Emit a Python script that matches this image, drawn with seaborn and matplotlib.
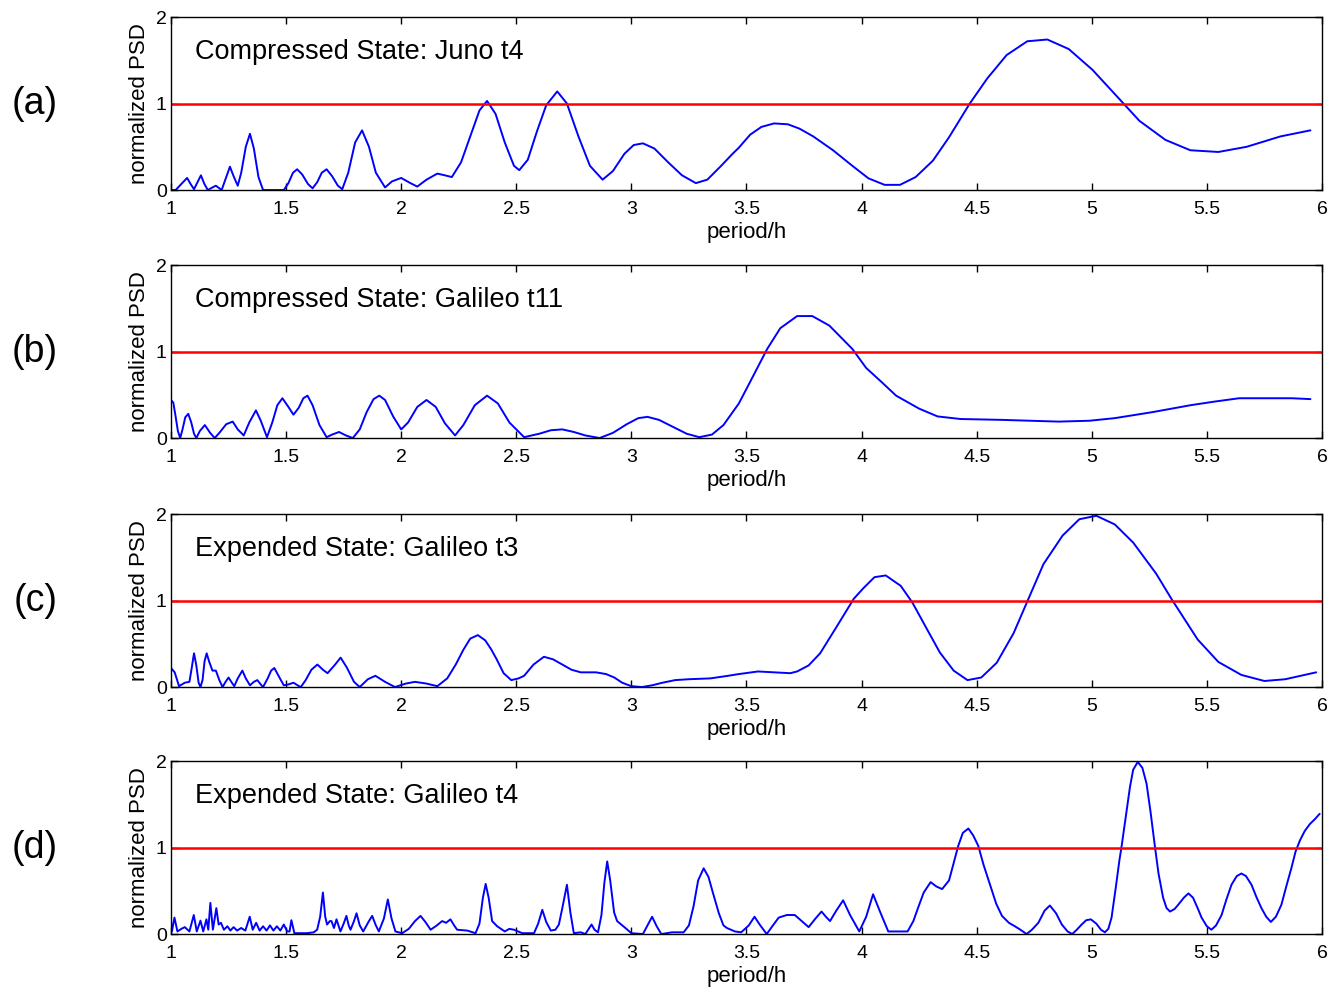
import numpy as np
import pandas as pd
import matplotlib
matplotlib.use('Agg')
import matplotlib.pyplot as plt
import seaborn as sns

# values (period in hours, normalized PSD)
period_a = [1.00, 1.02, 1.045, 1.07, 1.085, 1.10, 1.115, 1.13, 1.145, 1.16, 1.18, 1.195, 1.21, 1.22,
            1.24, 1.256, 1.272, 1.29, 1.305, 1.325, 1.343, 1.36, 1.38, 1.40, 1.49, 1.51, 1.53,
            1.548, 1.57, 1.595, 1.615, 1.635, 1.655, 1.676, 1.70, 1.725, 1.744, 1.77, 1.80,
            1.83, 1.86, 1.89, 1.93, 1.96, 2.00, 2.04, 2.07, 2.11, 2.157, 2.19, 2.22, 2.26,
            2.30, 2.34, 2.373, 2.41, 2.45, 2.49, 2.513, 2.55, 2.59, 2.63, 2.678, 2.72, 2.77,
            2.82, 2.875, 2.92, 2.97, 3.01, 3.05, 3.10, 3.16, 3.22, 3.28, 3.33, 3.39, 3.44,
            3.467, 3.516, 3.565, 3.62, 3.68, 3.73, 3.79, 3.876, 3.96, 4.03, 4.10, 4.167,
            4.235, 4.31, 4.38, 4.47, 4.546, 4.63, 4.72, 4.807, 4.90, 5.003, 5.10, 5.207,
            5.32, 5.428, 5.55, 5.673, 5.82, 5.95]
psd_a = [0.0, 0.0, 0.07, 0.14, 0.07, 0.01, 0.09, 0.17, 0.07, 0.0, 0.03, 0.05, 0.02, 0.0,
         0.15, 0.27, 0.16, 0.05, 0.20, 0.50, 0.65, 0.48, 0.15, 0.0, 0.0, 0.08, 0.20,
         0.24, 0.18, 0.07, 0.02, 0.09, 0.20, 0.24, 0.16, 0.05, 0.01, 0.20, 0.55,
         0.69, 0.50, 0.20, 0.03, 0.10, 0.14, 0.08, 0.04, 0.12, 0.19, 0.17, 0.15, 0.32,
         0.62, 0.92, 1.03, 0.88, 0.55, 0.28, 0.23, 0.35, 0.68, 0.98, 1.14, 1.00, 0.62,
         0.28, 0.12, 0.22, 0.42, 0.52, 0.54, 0.48, 0.32, 0.17, 0.08, 0.12, 0.28, 0.42,
         0.49, 0.64, 0.73, 0.77, 0.76, 0.71, 0.62, 0.46, 0.28, 0.135, 0.06, 0.06,
         0.15, 0.34, 0.61, 1.0, 1.29, 1.56, 1.72, 1.74, 1.63, 1.39, 1.11, 0.80,
         0.58, 0.46, 0.44, 0.50, 0.62, 0.69]

period_b = [1.00, 1.01, 1.02, 1.03, 1.04, 1.05, 1.062, 1.075, 1.088, 1.10, 1.11, 1.125, 1.147,
            1.17, 1.19, 1.21, 1.24, 1.268, 1.29, 1.316, 1.34, 1.369, 1.39, 1.417, 1.44, 1.462,
            1.484, 1.51, 1.532, 1.555, 1.575, 1.593, 1.615, 1.645, 1.676, 1.70, 1.73, 1.76,
            1.79, 1.82, 1.85, 1.88, 1.905, 1.93, 1.965, 2.0, 2.03, 2.07, 2.11, 2.15, 2.19,
            2.234, 2.27, 2.32, 2.373, 2.42, 2.47, 2.534, 2.60, 2.65, 2.70, 2.75, 2.80, 2.862,
            2.92, 2.98, 3.03, 3.07, 3.12, 3.18, 3.24, 3.295, 3.35, 3.40, 3.467, 3.516, 3.59,
            3.647, 3.72, 3.786, 3.86, 3.96, 4.02, 4.09, 4.15, 4.25, 4.33, 4.43, 4.61, 4.856,
            4.99, 5.10, 5.265, 5.43, 5.53, 5.64, 5.77, 5.87, 5.95]
psd_b = [0.44, 0.41, 0.25, 0.08, 0.0, 0.10, 0.24, 0.28, 0.18, 0.05, 0.0, 0.08, 0.15,
         0.06, 0.0, 0.06, 0.16, 0.19, 0.10, 0.03, 0.18, 0.32, 0.20, 0.01, 0.18, 0.38,
         0.46, 0.36, 0.27, 0.35, 0.46, 0.49, 0.38, 0.15, 0.01, 0.04, 0.07, 0.03,
         0.0, 0.10, 0.30, 0.45, 0.49, 0.44, 0.25, 0.10, 0.18, 0.36, 0.44, 0.36, 0.17,
         0.03, 0.15, 0.38, 0.49, 0.40, 0.18, 0.01, 0.05, 0.09, 0.10, 0.07, 0.03, 0.0,
         0.06, 0.16, 0.23, 0.245, 0.21, 0.13, 0.05, 0.01, 0.04, 0.15, 0.40, 0.65, 1.03,
         1.27, 1.41, 1.41, 1.30, 1.03, 0.81, 0.64, 0.49, 0.34, 0.25, 0.22, 0.21, 0.19,
         0.20, 0.23, 0.30, 0.38, 0.42, 0.46, 0.46, 0.46, 0.45]

period_c = [1.0, 1.016, 1.035, 1.06, 1.08, 1.09, 1.10, 1.11, 1.12, 1.128, 1.137, 1.146, 1.155,
            1.165, 1.18, 1.195, 1.21, 1.224, 1.237, 1.25, 1.262, 1.275, 1.29, 1.31, 1.325,
            1.343, 1.36, 1.375, 1.39, 1.40, 1.42, 1.435, 1.449, 1.465, 1.49, 1.51, 1.532,
            1.55, 1.564, 1.585, 1.61, 1.636, 1.66, 1.68, 1.71, 1.737, 1.765, 1.795, 1.82,
            1.855, 1.888, 1.93, 1.973, 2.02, 2.06, 2.11, 2.157, 2.20, 2.237, 2.27, 2.30,
            2.333, 2.365, 2.39, 2.413, 2.445, 2.478, 2.51, 2.534, 2.575, 2.62, 2.66, 2.70,
            2.74, 2.78, 2.846, 2.89, 2.926, 2.96, 3.0, 3.046, 3.09, 3.135, 3.19, 3.247,
            3.343, 3.42, 3.467, 3.55, 3.69, 3.72, 3.77, 3.82, 3.89, 3.966, 4.007, 4.056,
            4.105, 4.17, 4.22, 4.284, 4.34, 4.40, 4.46, 4.52, 4.587, 4.66, 4.725, 4.79,
            4.873, 4.946, 5.02, 5.10, 5.18, 5.28, 5.346, 5.46, 5.55, 5.65, 5.75, 5.84, 5.975]
psd_c = [0.22, 0.17, 0.01, 0.05, 0.06, 0.22, 0.39, 0.25, 0.05, 0.0, 0.08, 0.30, 0.39,
         0.30, 0.19, 0.19, 0.08, 0.0, 0.06, 0.11, 0.06, 0.01, 0.10, 0.19, 0.10,
         0.02, 0.06, 0.08, 0.03, 0.0, 0.10, 0.19, 0.22, 0.14, 0.02, 0.03, 0.05,
         0.02, 0.0, 0.08, 0.20, 0.26, 0.20, 0.16, 0.25, 0.34, 0.22, 0.06, 0.0,
         0.09, 0.13, 0.06, 0.0, 0.04, 0.06, 0.04, 0.01, 0.10, 0.26, 0.43, 0.56,
         0.60, 0.54, 0.44, 0.33, 0.16, 0.08, 0.10, 0.13, 0.26, 0.35, 0.32, 0.26,
         0.20, 0.17, 0.17, 0.15, 0.11, 0.05, 0.01, 0.0, 0.02, 0.05, 0.08, 0.09,
         0.10, 0.13, 0.15, 0.18, 0.16, 0.18, 0.25, 0.39, 0.69, 1.02, 1.14, 1.27,
         1.29, 1.17, 0.98, 0.67, 0.40, 0.19, 0.08, 0.11, 0.28, 0.62, 1.02, 1.42,
         1.75, 1.94, 1.98, 1.88, 1.67, 1.31, 1.02, 0.55, 0.29, 0.14, 0.07, 0.09, 0.17]

period_d = [1.000, 1.004, 1.015, 1.028, 1.045, 1.06, 1.08, 1.099, 1.112, 1.128, 1.14, 1.154,
            1.162, 1.171, 1.182, 1.197, 1.207, 1.217, 1.23, 1.245, 1.258, 1.272, 1.287, 1.305,
            1.323, 1.342, 1.355, 1.37, 1.385, 1.40, 1.415, 1.43, 1.445, 1.46, 1.475, 1.49,
            1.505, 1.515, 1.523, 1.536, 1.59, 1.62, 1.635, 1.648, 1.66, 1.67, 1.678, 1.69,
            1.697, 1.708, 1.719, 1.73, 1.736, 1.75, 1.762, 1.772, 1.78, 1.795, 1.806, 1.82,
            1.835, 1.86, 1.874, 1.89, 1.903, 1.925, 1.942, 1.958, 1.975, 2.004, 2.033, 2.06,
            2.084, 2.105, 2.128, 2.155, 2.178, 2.195, 2.214, 2.23, 2.243, 2.287, 2.323, 2.34,
            2.355, 2.367, 2.38, 2.395, 2.417, 2.45, 2.47, 2.49, 2.526, 2.577, 2.595, 2.613,
            2.63, 2.65, 2.67, 2.685, 2.70, 2.72, 2.735, 2.75, 2.78, 2.80, 2.815, 2.827,
            2.84, 2.855, 2.87, 2.883, 2.895, 2.908, 2.925, 2.938, 2.974, 3.0, 3.05, 3.07,
            3.09, 3.11, 3.13, 3.176, 3.227, 3.25, 3.27, 3.29, 3.314, 3.335, 3.355, 3.38,
            3.40, 3.415, 3.45, 3.477, 3.51, 3.535, 3.56, 3.588, 3.615, 3.64, 3.675, 3.71,
            3.74, 3.77, 3.80, 3.826, 3.845, 3.863, 3.89, 3.92, 3.95, 3.99, 4.02, 4.05,
            4.08, 4.116, 4.20, 4.225, 4.245, 4.27, 4.30, 4.325, 4.35, 4.38, 4.40, 4.42,
            4.44, 4.464, 4.485, 4.507, 4.53, 4.558, 4.585, 4.61, 4.64, 4.666, 4.69, 4.717,
            4.74, 4.768, 4.795, 4.818, 4.845, 4.87, 4.895, 4.915, 4.935, 4.956, 4.976, 4.996,
            5.02, 5.04, 5.057, 5.072, 5.086, 5.105, 5.12, 5.13, 5.15, 5.166, 5.18, 5.20,
            5.22, 5.238, 5.255, 5.274, 5.29, 5.31, 5.325, 5.34, 5.36, 5.376, 5.40, 5.42,
            5.44, 5.46, 5.477, 5.50, 5.52, 5.54, 5.564, 5.585, 5.607, 5.63, 5.65, 5.67,
            5.694, 5.715, 5.737, 5.758, 5.778, 5.80, 5.824, 5.845, 5.868, 5.885, 5.904, 5.925,
            5.947, 5.97, 5.99]
psd_d = [0.15, 0.03, 0.19, 0.03, 0.06, 0.08, 0.03, 0.22, 0.03, 0.155, 0.03, 0.17,
         0.05, 0.36, 0.05, 0.30, 0.11, 0.13, 0.05, 0.09, 0.04, 0.08, 0.04, 0.07,
         0.04, 0.20, 0.05, 0.13, 0.04, 0.09, 0.04, 0.10, 0.04, 0.09, 0.04, 0.11,
         0.03, 0.03, 0.16, 0.01, 0.01, 0.02, 0.05, 0.20, 0.48, 0.20, 0.11, 0.15,
         0.15, 0.07, 0.17, 0.08, 0.03, 0.12, 0.21, 0.10, 0.05, 0.15, 0.24, 0.10,
         0.03, 0.15, 0.21, 0.10, 0.03, 0.18, 0.40, 0.18, 0.03, 0.01, 0.06, 0.15,
         0.21, 0.14, 0.05, 0.10, 0.15, 0.13, 0.17, 0.10, 0.05, 0.04, 0.01, 0.12,
         0.42, 0.58, 0.42, 0.15, 0.09, 0.03, 0.06, 0.05, 0.01, 0.01, 0.12, 0.28,
         0.14, 0.04, 0.05, 0.11, 0.30, 0.57, 0.25, 0.01, 0.02, 0.0, 0.06, 0.11,
         0.05, 0.02, 0.22, 0.60, 0.84, 0.62, 0.25, 0.15, 0.07, 0.01, 0.0, 0.10,
         0.20, 0.09, 0.0, 0.02, 0.02, 0.10, 0.32, 0.62, 0.76, 0.66, 0.47, 0.24,
         0.10, 0.07, 0.03, 0.02, 0.10, 0.20, 0.10, 0.0, 0.10, 0.19, 0.22, 0.22,
         0.15, 0.08, 0.18, 0.26, 0.20, 0.15, 0.27, 0.39, 0.22, 0.03, 0.20, 0.46,
         0.26, 0.03, 0.03, 0.15, 0.30, 0.48, 0.60, 0.55, 0.52, 0.62, 0.82, 1.02,
         1.17, 1.22, 1.14, 1.02, 0.80, 0.57, 0.35, 0.21, 0.13, 0.09, 0.05, 0.0,
         0.05, 0.13, 0.27, 0.33, 0.24, 0.11, 0.03, 0.0, 0.05, 0.11, 0.16, 0.17,
         0.12, 0.05, 0.02, 0.06, 0.19, 0.55, 0.85, 1.02, 1.40, 1.70, 1.90, 1.99,
         1.92, 1.74, 1.42, 1.02, 0.70, 0.42, 0.30, 0.26, 0.29, 0.34, 0.42, 0.47,
         0.42, 0.30, 0.19, 0.09, 0.05, 0.10, 0.22, 0.40, 0.57, 0.67, 0.70, 0.67,
         0.57, 0.43, 0.30, 0.20, 0.14, 0.20, 0.34, 0.55, 0.77, 0.95, 1.08, 1.19,
         1.27, 1.33, 1.39]

threshold = 1.0
panel_labels = ['(a)', '(b)', '(c)', '(d)']
panel_titles = ['Compressed State: Juno t4', 'Compressed State: Galileo t11',
                'Expended State: Galileo t3', 'Expended State: Galileo t4']
x_ticks = [1, 1.5, 2, 2.5, 3, 3.5, 4, 4.5, 5, 5.5, 6]
x_tick_labels = ['1', '1.5', '2', '2.5', '3', '3.5', '4', '4.5', '5', '5.5', '6']
y_ticks = [0, 1, 2]

periods = [period_a, period_b, period_c, period_d]
psds = [psd_a, psd_b, psd_c, psd_d]

sns.set_style('ticks')
plt.rcParams['font.family'] = ['Liberation Sans', 'DejaVu Sans']
plt.rcParams['text.color'] = 'black'
plt.rcParams['axes.labelcolor'] = 'black'

fig = plt.figure(figsize=(13.38, 9.96), dpi=100)
bottoms = [0.8092, 0.5602, 0.3102, 0.0622]

for i in range(4):
    ax = fig.add_axes([0.1278, bottoms[i], 0.8602, 0.1737])
    sns.lineplot(x=periods[i], y=psds[i], ax=ax, color='#0000ff', linewidth=1.4)
    ax.axhline(threshold, color='#ff0000', linewidth=1.8)

    ax.set_xlim(1, 6)
    ax.set_ylim(0, 2)
    ax.set_xticks(x_ticks)
    ax.set_xticklabels(x_tick_labels)
    ax.set_yticks(y_ticks)
    ax.tick_params(direction='in', length=5, width=1, top=True, right=True,
                   labelsize=14, colors='black')
    ax.tick_params(axis='x', pad=8)
    ax.tick_params(axis='y', pad=3)
    for sp in ax.spines.values():
        sp.set_visible(True)
        sp.set_color('black')
        sp.set_linewidth(1.0)

    ax.set_xlabel('period/h', fontsize=16, labelpad=3)
    ax.set_ylabel('normalized PSD', fontsize=16, labelpad=4)

    ax.text(1.104, 1.6, panel_titles[i], fontsize=19.5, va='center', ha='left')
    ax.text(-0.118, 0.5, panel_labels[i], fontsize=27, va='center', ha='center',
            transform=ax.transAxes)

fig.savefig('out.png', dpi=100)
